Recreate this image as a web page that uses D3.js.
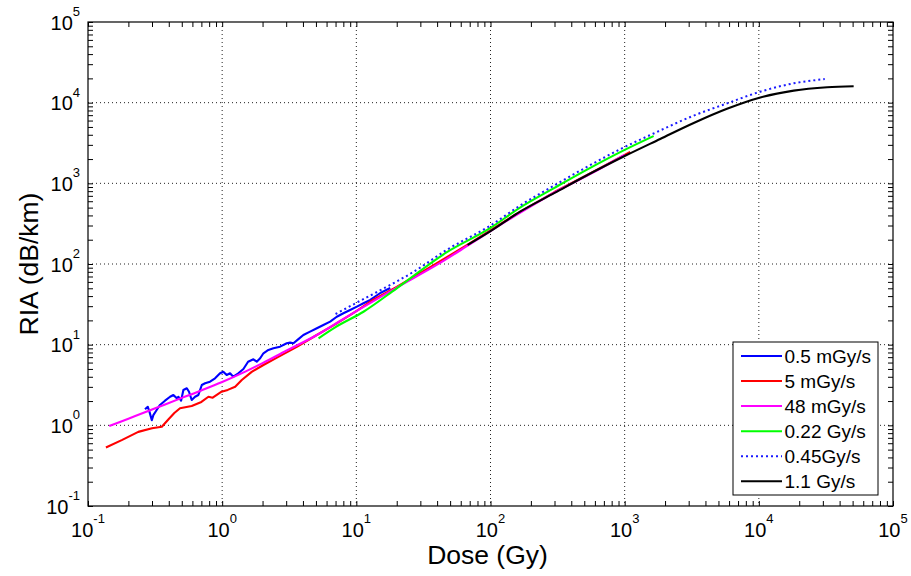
<!DOCTYPE html>
<html>
<head>
<meta charset="utf-8">
<script src="https://cdn.jsdelivr.net/npm/d3@7"></script>
<style>
  body { margin: 0; background: #fff; }
  text { font-family: Arial, "Liberation Sans", sans-serif; fill: #000; }
</style>
</head>
<body>
<svg id="graf" width="911" height="576"></svg>
<script>
// dekadni izlozitelji za oznake osi
const doseExps = [-1, 0, 1, 2, 3, 4, 5];
const riaExps = [-1, 0, 1, 2, 3, 4, 5];

const imena = ["0.5 mGy/s", "5 mGy/s", "48 mGy/s", "0.22 Gy/s", "0.45Gy/s", "1.1 Gy/s"];

// 0.5 mGy/s
const doseA = [0.266,0.279,0.287,0.299,0.307,0.325,0.344,0.375,0.409,0.433,0.459,0.472,0.494,0.514,0.545,0.566,0.593,0.628,0.665,0.705,0.746,0.812,0.885,0.964,1.02,1.08,1.145,1.21,1.32,1.44,1.56,1.71,1.81,1.92,2.03,2.21,2.41,2.70,3.03,3.21,3.40,3.70,4.03,4.52,5.08,5.68,6.38,7.15,8.01,8.99,10.1,11.3,12.7,15.1,17.9];
const riaA = [1.58,1.70,1.48,1.16,1.34,1.55,1.79,2.02,2.26,2.38,2.16,2.26,2.02,2.74,2.88,2.61,2.06,2.26,2.38,3.16,3.32,3.48,3.83,4.42,4.62,4.21,4.42,4.01,4.42,4.99,6.15,6.58,6.15,6.78,7.82,8.59,9.02,9.44,10.4,10.6,10.4,11.7,13.2,14.5,16.0,17.5,19.3,22.2,24.5,26.9,29.6,32.6,35.8,43.7,50.4];

// 5 mGy/s
const doseB = [0.136,0.18,0.237,0.3,0.355,0.4,0.44,0.485,0.593,0.7,0.79,0.85,0.99,1.1,1.25,1.4,1.66,2.03,2.6,3.6,5,7,10,13.3,20,35,70,150,300,600,1100];
const riaB = [0.53,0.66,0.83,0.92,0.96,1.2,1.42,1.63,1.74,1.95,2.26,2.2,2.61,2.75,3.01,3.65,4.6,5.6,7.0,9.4,13.0,18.0,26.0,35.8,52,90,180,400,780,1420,2450];

// 48 mGy/s
const doseC = [0.144,0.2,0.3,0.5,0.7,1.0,1.5,2,3,5,7.5,10,20,40,70,150,300,600,1000];
const riaC = [0.98,1.21,1.57,2.19,2.71,3.44,4.66,5.9,8.4,13,19.5,26,51,98,175,390,770,1400,2250];

// 0.22 Gy/s
const doseD = [5.23,7,11.3,20,47.3,100,166,300,524,1000,1644];
const riaD = [12,16.5,25.6,50,140,280,500,880,1480,2600,3860];

// 0.45 Gy/s
const doseE = [7.0,10,15,26.7,47.3,100,166,295,524,927,1644,3266,5794,10260,18200,31000];
const riaE = [24,33,47,80,150,300,530,930,1600,2650,4150,6900,9800,13680,17380,19600];

// 1.1 Gy/s
const doseF = [67.5,100,166,300,524,1000,1840,3270,5790,10260,18200,32300,50900];
const riaF = [172,255,445,760,1260,2180,3550,5600,8400,11600,14100,15500,16000];

const dimenzije = {
  sirina: 911,
  visina: 576,
  lijevo: 88,
  desno: 893,
  gore: 22,
  dolje: 506,
};

const serije = [
  { ime: imena[0], doza: doseA, ria: riaA, boja: "#0000ff", crtkano: null, glatko: false },
  { ime: imena[1], doza: doseB, ria: riaB, boja: "#ff0000", crtkano: null, glatko: false },
  { ime: imena[2], doza: doseC, ria: riaC, boja: "#ff00ff", crtkano: null, glatko: true },
  { ime: imena[3], doza: doseD, ria: riaD, boja: "#00ff00", crtkano: null, glatko: true },
  { ime: imena[4], doza: doseE, ria: riaE, boja: "#1a1aff", crtkano: "2,3", glatko: true },
  { ime: imena[5], doza: doseF, ria: riaF, boja: "#000000", crtkano: null, glatko: true },
];

const svg = d3.select("#graf");

const xScale = d3.scaleLog()
  .domain([1e-1, 1e5])
  .range([dimenzije.lijevo, dimenzije.desno]);

const yScale = d3.scaleLog()
  .domain([1e-1, 1e5])
  .range([dimenzije.dolje, dimenzije.gore]);

const velike = doseExps.map(e => Math.pow(10, e));
const velikeY = riaExps.map(e => Math.pow(10, e));
const male = [];
doseExps.slice(0, -1).forEach(e => {
  for (let m = 2; m <= 9; m++) male.push(m * Math.pow(10, e));
});
const maleY = [];
riaExps.slice(0, -1).forEach(e => {
  for (let m = 2; m <= 9; m++) maleY.push(m * Math.pow(10, e));
});

// mreza (tockasta)
const mreza = svg.append("g").attr("class", "mreza");
mreza.selectAll("line.v")
  .data(velike.slice(1, -1))
  .enter().append("line")
  .attr("x1", d => xScale(d)).attr("x2", d => xScale(d))
  .attr("y1", dimenzije.gore).attr("y2", dimenzije.dolje)
  .attr("stroke", "#222").attr("stroke-width", 1)
  .attr("stroke-dasharray", "1,3");
mreza.selectAll("line.h")
  .data(velikeY.slice(1, -1))
  .enter().append("line")
  .attr("y1", d => yScale(d)).attr("y2", d => yScale(d))
  .attr("x1", dimenzije.lijevo).attr("x2", dimenzije.desno)
  .attr("stroke", "#222").attr("stroke-width", 1)
  .attr("stroke-dasharray", "1,3");

// osi s crticama prema unutra na sve cetiri strane
const duljina = 5;
const osi = [
  { gen: d3.axisBottom(xScale), t: `translate(0,${dimenzije.dolje})` },
  { gen: d3.axisTop(xScale), t: `translate(0,${dimenzije.gore})` },
];
const osiY = [
  { gen: d3.axisLeft(yScale), t: `translate(${dimenzije.lijevo},0)` },
  { gen: d3.axisRight(yScale), t: `translate(${dimenzije.desno},0)` },
];
osi.forEach(o => {
  svg.append("g").attr("transform", o.t)
    .call(o.gen.tickValues(velike.concat(male)).tickSizeInner(-duljina).tickSizeOuter(0).tickFormat(""))
    .call(g => g.select(".domain").remove());
});
osiY.forEach(o => {
  svg.append("g").attr("transform", o.t)
    .call(o.gen.tickValues(velikeY.concat(maleY)).tickSizeInner(-duljina).tickSizeOuter(0).tickFormat(""))
    .call(g => g.select(".domain").remove());
});
svg.selectAll(".tick line").attr("stroke", "#000").attr("stroke-width", 1);

// okvir
svg.append("rect")
  .attr("x", dimenzije.lijevo).attr("y", dimenzije.gore)
  .attr("width", dimenzije.desno - dimenzije.lijevo)
  .attr("height", dimenzije.dolje - dimenzije.gore)
  .attr("fill", "none").attr("stroke", "#000").attr("stroke-width", 1.2);

// oznake osi x
const oznakeX = svg.append("g");
doseExps.forEach(e => {
  const t = oznakeX.append("text")
    .attr("x", xScale(Math.pow(10, e)))
    .attr("y", dimenzije.dolje + 30.5)
    .attr("text-anchor", "middle")
    .style("font-size", "20px");
  t.append("tspan").text("10");
  t.append("tspan").text(e).attr("dy", -13.5).style("font-size", "13px");
});

// oznake osi y
const oznakeY = svg.append("g");
riaExps.forEach(e => {
  const t = oznakeY.append("text")
    .attr("x", 80)
    .attr("y", yScale(Math.pow(10, e)) + 7.5)
    .attr("text-anchor", "end")
    .style("font-size", "20px");
  t.append("tspan").text("10");
  t.append("tspan").text(e).attr("dy", -13.5).style("font-size", "13px");
});

// naslovi osi
svg.append("text")
  .attr("x", (dimenzije.lijevo + dimenzije.desno) / 2 - 3)
  .attr("y", 564)
  .attr("text-anchor", "middle")
  .style("font-size", "26.5px")
  .text("Dose (Gy)");

svg.append("text")
  .attr("transform", `translate(38, ${(dimenzije.gore + dimenzije.dolje) / 2}) rotate(-90)`)
  .attr("text-anchor", "middle")
  .style("font-size", "26.5px")
  .text("RIA (dB/km)");

// krivulje
const krivulje = svg.append("g");
serije.forEach(s => {
  const tocke = s.doza.map((d, i) => [d, s.ria[i]]);
  const linija = d3.line()
    .x(d => xScale(d[0]))
    .y(d => yScale(d[1]))
    .curve(s.glatko ? d3.curveMonotoneX : d3.curveLinear);
  krivulje.append("path")
    .datum(tocke)
    .attr("d", linija)
    .attr("fill", "none")
    .attr("stroke", s.boja)
    .attr("stroke-width", s.crtkano ? 2 : 2.1)
    .attr("stroke-dasharray", s.crtkano)
    .attr("stroke-linejoin", "round");
});

// legenda
const legenda = svg.append("g").attr("transform", "translate(733,342)");
legenda.append("rect")
  .attr("width", 145).attr("height", 153)
  .attr("fill", "#fff").attr("stroke", "#000").attr("stroke-width", 1);
const redovi = legenda.selectAll("g.red")
  .data(serije)
  .enter().append("g")
  .attr("transform", (d, i) => `translate(0, ${14 + i * 25.05})`);
redovi.append("line")
  .attr("x1", 8).attr("x2", 49)
  .attr("stroke", d => d.boja)
  .attr("stroke-width", 2)
  .attr("stroke-dasharray", d => d.crtkano);
redovi.append("text")
  .attr("x", 51.5)
  .attr("y", 7)
  .style("font-size", "19px")
  .text(d => d.ime);
</script>
</body>
</html>
